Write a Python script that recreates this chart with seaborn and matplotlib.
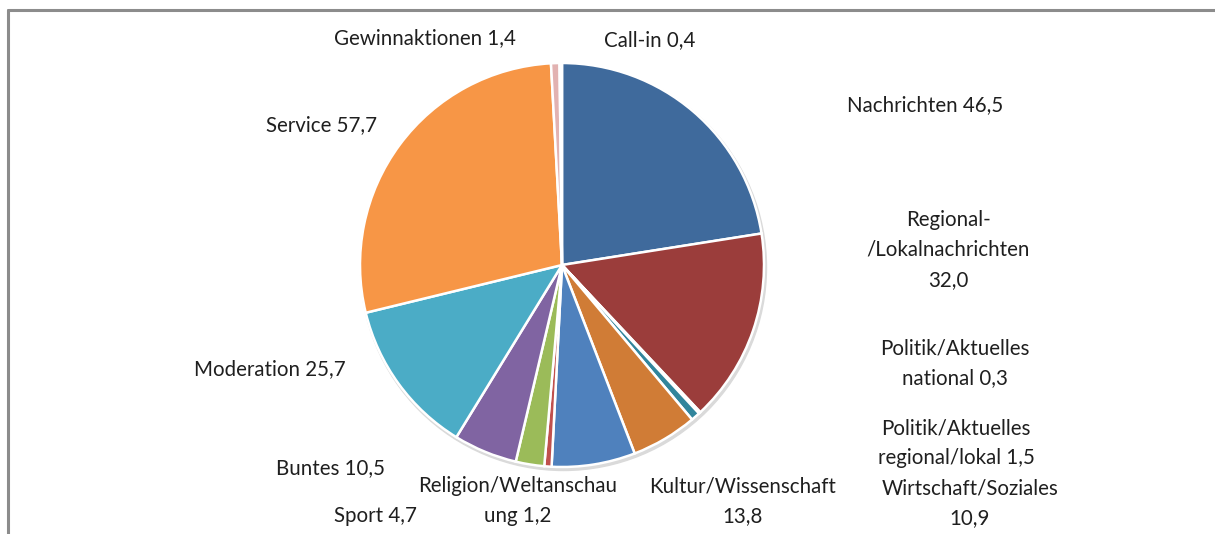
import matplotlib
matplotlib.use("Agg")
import matplotlib.pyplot as plt
from matplotlib.patches import Circle
import seaborn as sns

# Anteile (Minuten) je Kategorie, im Uhrzeigersinn ab 12 Uhr
categories = ["Nachrichten", "Regional-\n/Lokalnachrichten", "Politik/Aktuelles\nnational",
              "Politik/Aktuelles\nregional/lokal", "Wirtschaft/Soziales", "Kultur/Wissenschaft",
              "Religion/Weltanschau\nung", "Sport", "Buntes", "Moderation", "Service",
              "Gewinnaktionen", "Call-in"]
values = [46.5, 32.0, 0.3, 1.5, 10.9, 13.8, 1.2, 4.7, 10.5, 25.7, 57.7, 1.4, 0.4]
value_labels = ["46,5", "32,0", "0,3", "1,5", "10,9", "13,8", "1,2", "4,7", "10,5", "25,7", "57,7", "1,4", "0,4"]
colors = ["#3F6A9C", "#9B3D3B", "#EEF2F7", "#31859C", "#D07C36", "#4F81BD", "#C0504D",
          "#9BBB59", "#8064A2", "#4BACC6", "#F79646", "#E2B2B1", "#DCE6F2"]

# label positions in pixels (x, y from top) and whether value sits on own line
label_pos = [(925, 105), (948, 250), (955, 363), (956, 443), (970, 503), (743, 501),
             (518, 501), (375, 516), (330, 468), (270, 369), (322, 125), (425, 38), (650, 40)]
value_newline = [False, True, False, False, True, True, False, False, False, False, False, False, False]

sns.set_theme(style="white")
plt.rcParams["font.family"] = ["Lato", "DejaVu Sans"]

W, H = 1215, 534
fig = plt.figure(figsize=(W / 100, H / 100), dpi=100)
ax = fig.add_axes([0, 0, 1, 1])

cx, cy, r = 562, H - 265, 202

# soft shadow
ax.add_patch(Circle((cx + 1.5, cy - 2.5), r + 1, color="#DADADA", zorder=1))

ax.pie(values, colors=sns.color_palette(colors), startangle=90, counterclock=False,
       center=(cx, cy), radius=r, frame=True,
       wedgeprops=dict(edgecolor="white", linewidth=1.8, zorder=2))
ax.set_xlim(0, W)
ax.set_ylim(0, H)
ax.set_aspect("equal")
ax.axis("off")

for cat, val, (px, py), nl in zip(categories, value_labels, label_pos, value_newline):
    txt = f"{cat}\n{val}" if nl else f"{cat} {val}"
    ax.text(px, H - py, txt, ha="center", va="center", fontsize=14.8,
            color="#1F1F1F", linespacing=1.62, zorder=5)

# chart frame (top and left edges visible)
ax.plot([8, 8], [0, H - 10], color="#8C8C8C", lw=2.2, zorder=6, clip_on=False)
ax.plot([8, W], [H - 10, H - 10], color="#8C8C8C", lw=2.2, zorder=6, clip_on=False)

fig.savefig("out.png", dpi=100)
